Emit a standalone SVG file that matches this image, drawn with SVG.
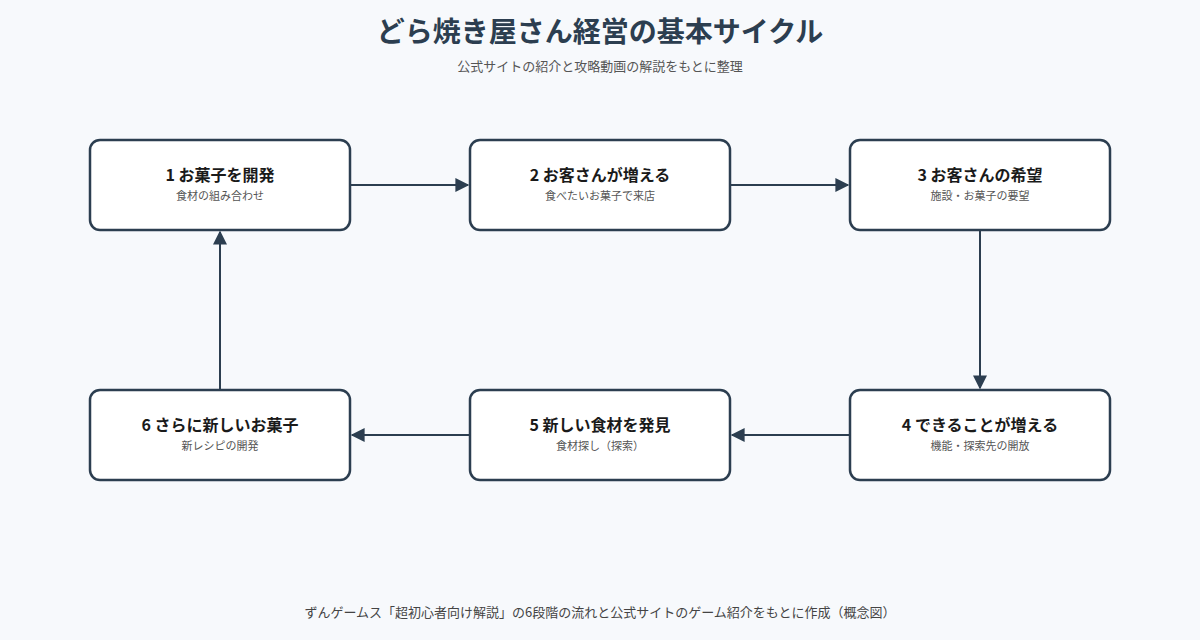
<svg xmlns="http://www.w3.org/2000/svg" width="1200" height="640" viewBox="0 0 1200 640">
<defs>
<style>
text{font-family:"Noto Sans CJK JP","Noto Sans",sans-serif;text-anchor:middle}
.box{fill:#fff;stroke:#2c3e50;stroke-width:2.5}
.t{font-size:16px;font-weight:bold;fill:#1a1a1a}
.s{font-size:11px;fill:#555}
.c{stroke:#2c3e50;stroke-width:2;fill:none;marker-end:url(#a)}
</style>
<marker id="a" viewBox="0 0 10 10" refX="9" refY="5" markerWidth="9" markerHeight="9" markerUnits="userSpaceOnUse" orient="auto"><path d="M0,0L10,5L0,10z" fill="#2c3e50"/></marker>
<marker id="a2" viewBox="0 0 10 10" refX="9" refY="5" markerWidth="18" markerHeight="14" markerUnits="userSpaceOnUse" orient="auto"><path d="M0,0L10,5L0,10z" fill="#2c3e50"/></marker>
</defs>
<rect width="1200" height="640" fill="#f7f9fc"/>
<text x="600" y="42" style="font-size:28px;font-weight:bold;fill:#2c3e50">どら焼き屋さん経営の基本サイクル</text>
<text x="600" y="71" style="font-size:13px;fill:#555">公式サイトの紹介と攻略動画の解説をもとに整理</text>
<g id="connectors">
<path class="c" style="marker-end:url(#a2)" d="M350,185H468"/>
<path class="c" style="marker-end:url(#a2)" d="M730,185H848"/>
<path class="c" style="marker-end:url(#a2)" d="M980,230V388"/>
<path class="c" style="marker-end:url(#a2)" d="M850,435H732"/>
<path class="c" style="marker-end:url(#a2)" d="M470,435H352"/>
<path class="c" style="marker-end:url(#a2)" d="M220,390V232"/>
</g>
<g id="n1"><rect class="box" x="90" y="140" width="260" height="90" rx="10"/><text class="t" x="220" y="181">1 お菓子を開発</text><text class="s" x="220" y="200">食材の組み合わせ</text></g>
<g id="n2"><rect class="box" x="470" y="140" width="260" height="90" rx="10"/><text class="t" x="600" y="181">2 お客さんが増える</text><text class="s" x="600" y="200">食べたいお菓子で来店</text></g>
<g id="n3"><rect class="box" x="850" y="140" width="260" height="90" rx="10"/><text class="t" x="980" y="181">3 お客さんの希望</text><text class="s" x="980" y="200">施設・お菓子の要望</text></g>
<g id="n4"><rect class="box" x="850" y="390" width="260" height="90" rx="10"/><text class="t" x="980" y="431">4 できることが増える</text><text class="s" x="980" y="450">機能・探索先の開放</text></g>
<g id="n5"><rect class="box" x="470" y="390" width="260" height="90" rx="10"/><text class="t" x="600" y="431">5 新しい食材を発見</text><text class="s" x="600" y="450">食材探し（探索）</text></g>
<g id="n6"><rect class="box" x="90" y="390" width="260" height="90" rx="10"/><text class="t" x="220" y="431">6 さらに新しいお菓子</text><text class="s" x="220" y="450">新レシピの開発</text></g>
<text x="600" y="617" style="font-size:13px;fill:#444">ずんゲームス「超初心者向け解説」の6段階の流れと公式サイトのゲーム紹介をもとに作成（概念図）</text>
</svg>
